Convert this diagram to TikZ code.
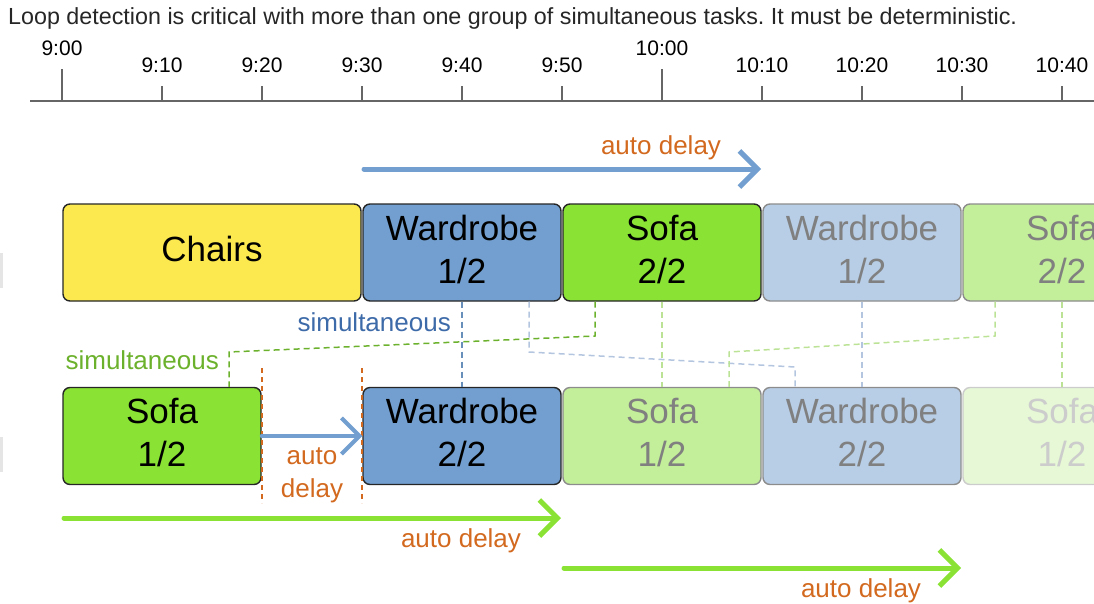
\documentclass[tikz,border=0pt]{standalone}
\usepackage{fontspec}
\setmainfont{Liberation Sans}
\usetikzlibrary{arrows.meta}
\frenchspacing
\definecolor{butter}{HTML}{FCE94F}
\definecolor{sky}{HTML}{729FCF}
\definecolor{skydark}{HTML}{3D6AA8}
\definecolor{skyfade}{HTML}{B8CEE6}
\definecolor{skyline}{HTML}{B3C5DF}
\definecolor{cham}{HTML}{8AE234}
\definecolor{chamdark}{HTML}{6CB12C}
\definecolor{chamfade}{HTML}{C4EF9A}
\definecolor{chamghost}{HTML}{E6F8D6}
\definecolor{chamline}{HTML}{BCE296}
\definecolor{delayorange}{HTML}{D2691E}
\definecolor{axisgray}{HTML}{666666}

\begin{document}
\begin{tikzpicture}[x=1pt,y=-1pt,
    task/.style={draw=black!85, line width=1.4pt, rounded corners=7pt, minimum width=198pt,
                 minimum height=97pt, inner sep=0pt, align=center, font=\fontsize{35}{43}\selectfont,
                 execute at end node={\rule[-7pt]{0pt}{0pt}}},
    fadetask/.style={task, draw=black!45, text=black!50},
    ghosttask/.style={task, draw=black!20, text=black!20},
    lbl/.style={font=\fontsize{26}{33}\selectfont, inner sep=0pt},
    timelbl/.style={font=\fontsize{21}{25}\selectfont, inner sep=0pt, anchor=base},
    dashline/.style={line width=1.5pt, dash pattern=on 6pt off 4pt},
    bigarrow/.style={-{Straight Barb[length=18pt,width=36pt]}, line width=5pt, line cap=round}]
    \useasboundingbox (0,0) rectangle (1094,603);
    \clip (0,0) rectangle (1094,603);
    % Title
    \node[anchor=base west, inner sep=0pt, font=\fontsize{23.3}{27}\selectfont, text=black!85] (title) at (8,24)
        {Loop detection is critical with more than one group of simultaneous tasks. It must be deterministic.};
    % Timeline
    \draw[axisgray, line width=2.2pt] (30,101) -- (1094,101);
    \foreach \i/\t in {0/9:00, 6/10:00}{
        \draw[axisgray, line width=2pt] (62+100*\i,69) -- (62+100*\i,101);
        \node[timelbl] (t\i) at (62+100*\i,55) {\t};
    }
    \foreach \i/\t in {1/9:10, 2/9:20, 3/9:30, 4/9:40, 5/9:50, 7/10:10, 8/10:20, 9/10:30, 10/10:40}{
        \draw[axisgray, line width=2pt] (62+100*\i,86) -- (62+100*\i,101);
        \node[timelbl] (t\i) at (62+100*\i,72) {\t};
    }
    % Cut-off marks at the left edge
    \fill[black!10] (0,253) rectangle (2.5,288);
    \fill[black!10] (0,437) rectangle (2.5,472);
    % First group of tasks
    \node[task, fill=butter, minimum width=298pt] (chairs) at (212,252.5) {Chairs};
    \node[task, fill=sky] (wardA) at (462,252.5) {Wardrobe\\1/2};
    \node[task, fill=cham] (sofaB) at (662,252.5) {Sofa\\2/2};
    \node[fadetask, fill=skyfade] (wardAf) at (862,252.5) {Wardrobe\\1/2};
    \node[fadetask, fill=chamfade] (sofaBf) at (1062,252.5) {Sofa\\2/2};
    % Second group of tasks
    \node[task, fill=cham] (sofaA) at (162,436) {Sofa\\1/2};
    \node[task, fill=sky] (wardB) at (462,436) {Wardrobe\\2/2};
    \node[fadetask, fill=chamfade] (sofaAf) at (662,436) {Sofa\\1/2};
    \node[fadetask, fill=skyfade] (wardBf) at (862,436) {Wardrobe\\2/2};
    \node[ghosttask, fill=chamghost] (sofaAg) at (1062,436) {Sofa\\1/2};
    % Simultaneous links
    \coordinate (g1) at (595,336);
    \coordinate (g2) at (229,352);
    \coordinate (fb1) at (529,352);
    \coordinate (fb2) at (795,367);
    \coordinate (fg1) at (995,336);
    \coordinate (fg2) at (729,352);
    \draw[dashline, sky!90!black] (wardA.south) -- (wardB.north);
    \draw[dashline, chamdark] (sofaB.south -| g1) -- (g1) -- (g2) -- (g2 |- sofaA.north);
    \draw[dashline, skyline] (wardA.south -| fb1) -- (fb1) -- (fb2) -- (fb2 |- wardBf.north);
    \draw[dashline, chamline] (sofaBf.south -| fg1) -- (fg1) -- (fg2) -- (fg2 |- sofaAf.north);
    \draw[dashline, skyline] (wardAf.south) -- (wardBf.north);
    \draw[dashline, chamline] (sofaB.south) -- (sofaAf.north);
    \draw[dashline, chamline] (sofaBf.south) -- (sofaAg.north);
    \node[lbl, text=skydark, anchor=east] (simblue) at (451,322) {simultaneous};
    \node[lbl, text=chamdark, anchor=east] (simgreen) at (219,360) {simultaneous};
    % Auto delay between the two groups
    \coordinate (d1t) at (262,368);
    \coordinate (d1b) at (262,503);
    \coordinate (d2t) at (362,368);
    \coordinate (d2b) at (362,503);
    \draw[delayorange, line width=1.2pt, dash pattern=on 5pt off 4pt] (d1t) -- (d1b);
    \draw[delayorange, line width=1.2pt, dash pattern=on 5pt off 4pt] (d2t) -- (d2b);
    \draw[bigarrow, sky, line width=4pt] (sofaA.east) -- (wardB.west);
    \node[lbl, text=delayorange, align=center] (gapdelay) at (312,475) {auto\\delay};
    % Auto delay arrows
    \coordinate (ua) at (364,169);
    \coordinate (ub) at (761,169);
    \draw[bigarrow, sky] (ua) -- (ub);
    \node[lbl, text=delayorange, anchor=base] (updelay) at (661,154) {auto delay};
    \coordinate (la) at (64,518);
    \coordinate (lb) at (561,518);
    \draw[bigarrow, cham] (la) -- (lb);
    \node[lbl, text=delayorange, anchor=base] (lowdelayA) at (461,547) {auto delay};
    \coordinate (ra) at (564,568);
    \coordinate (rb) at (961,568);
    \draw[bigarrow, cham] (ra) -- (rb);
    \node[lbl, text=delayorange, anchor=base] (lowdelayB) at (861,597) {auto delay};
\end{tikzpicture}
\end{document}
